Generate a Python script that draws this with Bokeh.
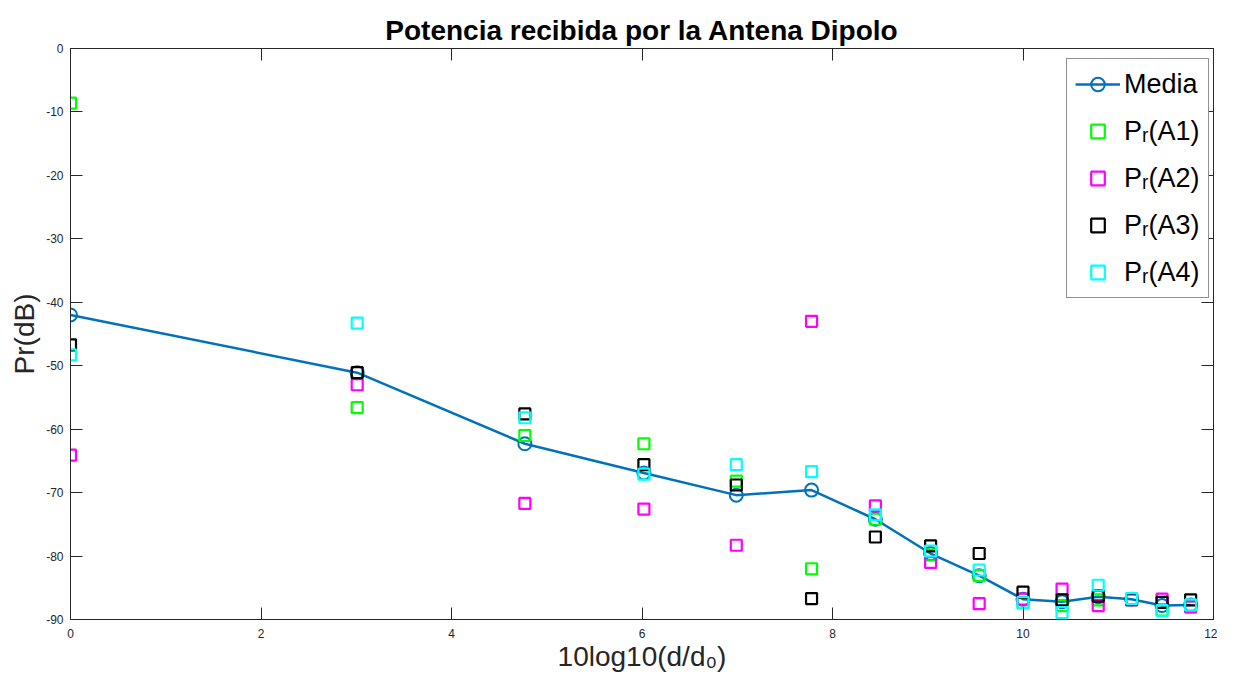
from bokeh.plotting import figure
from bokeh.models import Range1d, LinearAxis, FixedTicker, CustomJSTickFormatter, Legend
from bokeh.embed import file_html
from bokeh.resources import INLINE

# Data
x_vals = [0.0, 3.01, 4.77, 6.02, 6.99, 7.78, 8.45, 9.03, 9.54, 10.0, 10.41, 10.79, 11.14, 11.46, 11.76]
media = [-42.0, -51.1, -62.3, -66.9, -70.4, -69.6, -74.2, -79.6, -83.1, -86.8, -87.2, -86.4, -86.8, -87.8, -87.7]
pr_a1 = [-8.6, -56.6, -61.0, -62.3, -68.2, -82.0, -74.2, -79.8, -83.1, -87.4, -87.8, -86.9, -86.9, -88.5, -88.0]
pr_a2 = [-64.1, -53.0, -71.7, -72.6, -78.3, -43.0, -72.1, -81.0, -87.5, -86.8, -85.2, -87.8, -86.9, -86.8, -88.0]
pr_a3 = [-46.7, -51.1, -57.6, -65.6, -68.8, -86.7, -77.0, -78.4, -79.6, -85.7, -86.9, -86.3, -86.8, -87.3, -86.9]
pr_a4 = [-48.3, -43.3, -58.2, -67.1, -65.6, -66.7, -73.5, -79.2, -82.2, -87.3, -88.9, -84.6, -86.7, -88.6, -87.7]

x_ticks = [0, 2, 4, 6, 8, 10, 12]
y_ticks = [0, -10, -20, -30, -40, -50, -60, -70, -80, -90]
y_tick_labels = {t: str(t) for t in y_ticks}   # plain hyphen-minus as in the reference

series = [
    ("P\u1d63(A1)", pr_a1, "#00FF00"),
    ("P\u1d63(A2)", pr_a2, "#FF00FF"),
    ("P\u1d63(A3)", pr_a3, "#000000"),
    ("P\u1d63(A4)", pr_a4, "#00FFFF"),
]

FONT = "Liberation Sans"
AX = "#262626"

p = figure(width=1217, height=675, output_backend="svg", toolbar_location=None,
           x_range=Range1d(0, 12), y_range=Range1d(-90, 0),
           min_border_left=70, min_border_right=4, min_border_top=48, min_border_bottom=56,
           x_axis_label="10log10(d/d\u2080)", y_axis_label="Pr(dB)")

p.title.text = "Potencia recibida por la Antena Dipolo"
p.title.align = "center"
p.title.text_font = FONT
p.title.text_font_size = "28px"
p.title.text_font_style = "bold"
p.title.text_color = "#000000"
p.title.standoff = 5

p.grid.visible = False
p.outline_line_color = AX
p.background_fill_color = "white"
p.border_fill_color = "white"

for ax, ticks in ((p.xaxis[0], x_ticks), (p.yaxis[0], y_ticks)):
    ax.ticker = FixedTicker(ticks=ticks)
    ax.major_tick_in = 12
    ax.major_tick_out = 0
    ax.minor_tick_line_color = None
    ax.axis_line_color = AX
    ax.major_tick_line_color = AX
    ax.major_label_text_color = AX
    ax.major_label_text_font = FONT
    ax.major_label_text_font_size = "12px"
    ax.axis_label_text_font = FONT
    ax.axis_label_text_font_size = "28px"
    ax.axis_label_text_font_style = "normal"
    ax.axis_label_text_color = AX

p.yaxis[0].major_label_overrides = y_tick_labels
p.xaxis[0].major_label_standoff = 9
p.xaxis[0].axis_label_standoff = 0
p.yaxis[0].major_label_standoff = 7
p.yaxis[0].axis_label_standoff = 3

blank = CustomJSTickFormatter(code="return ''")
top = LinearAxis(ticker=FixedTicker(ticks=x_ticks), formatter=blank)
right = LinearAxis(ticker=FixedTicker(ticks=y_ticks), formatter=blank)
for ax in (top, right):
    ax.major_tick_in = 12
    ax.major_tick_out = 0
    ax.minor_tick_line_color = None
    ax.axis_line_color = AX
    ax.major_tick_line_color = AX
    ax.major_label_standoff = 0
p.add_layout(top, "above")
p.add_layout(right, "right")

items = []
r_line = p.line(x_vals, media, line_color="#0072BD", line_width=2.5)
r_circ = p.scatter(x_vals, media, marker="circle", size=13, fill_color=None,
                   line_color="#0072BD", line_width=2)
items.append(("Media", [r_line, r_circ]))

for name, vals, col in series:
    r = p.scatter(x_vals, vals, marker="square", size=11, fill_color=None,
                  line_color=col, line_width=2.2)
    items.append((name, [r]))

legend = Legend(items=items, location=(996, 321))
legend.margin = 0
legend.padding = 8
legend.spacing = 13
legend.glyph_width = 45
legend.glyph_height = 34
legend.label_standoff = 4
legend.label_text_font = FONT
legend.label_text_font_size = "27px"
legend.label_text_color = "#000000"
legend.border_line_color = AX
legend.border_line_width = 1
legend.background_fill_color = "white"
legend.background_fill_alpha = 1
p.add_layout(legend)

open("out.html", "w").write(file_html(p, INLINE))
